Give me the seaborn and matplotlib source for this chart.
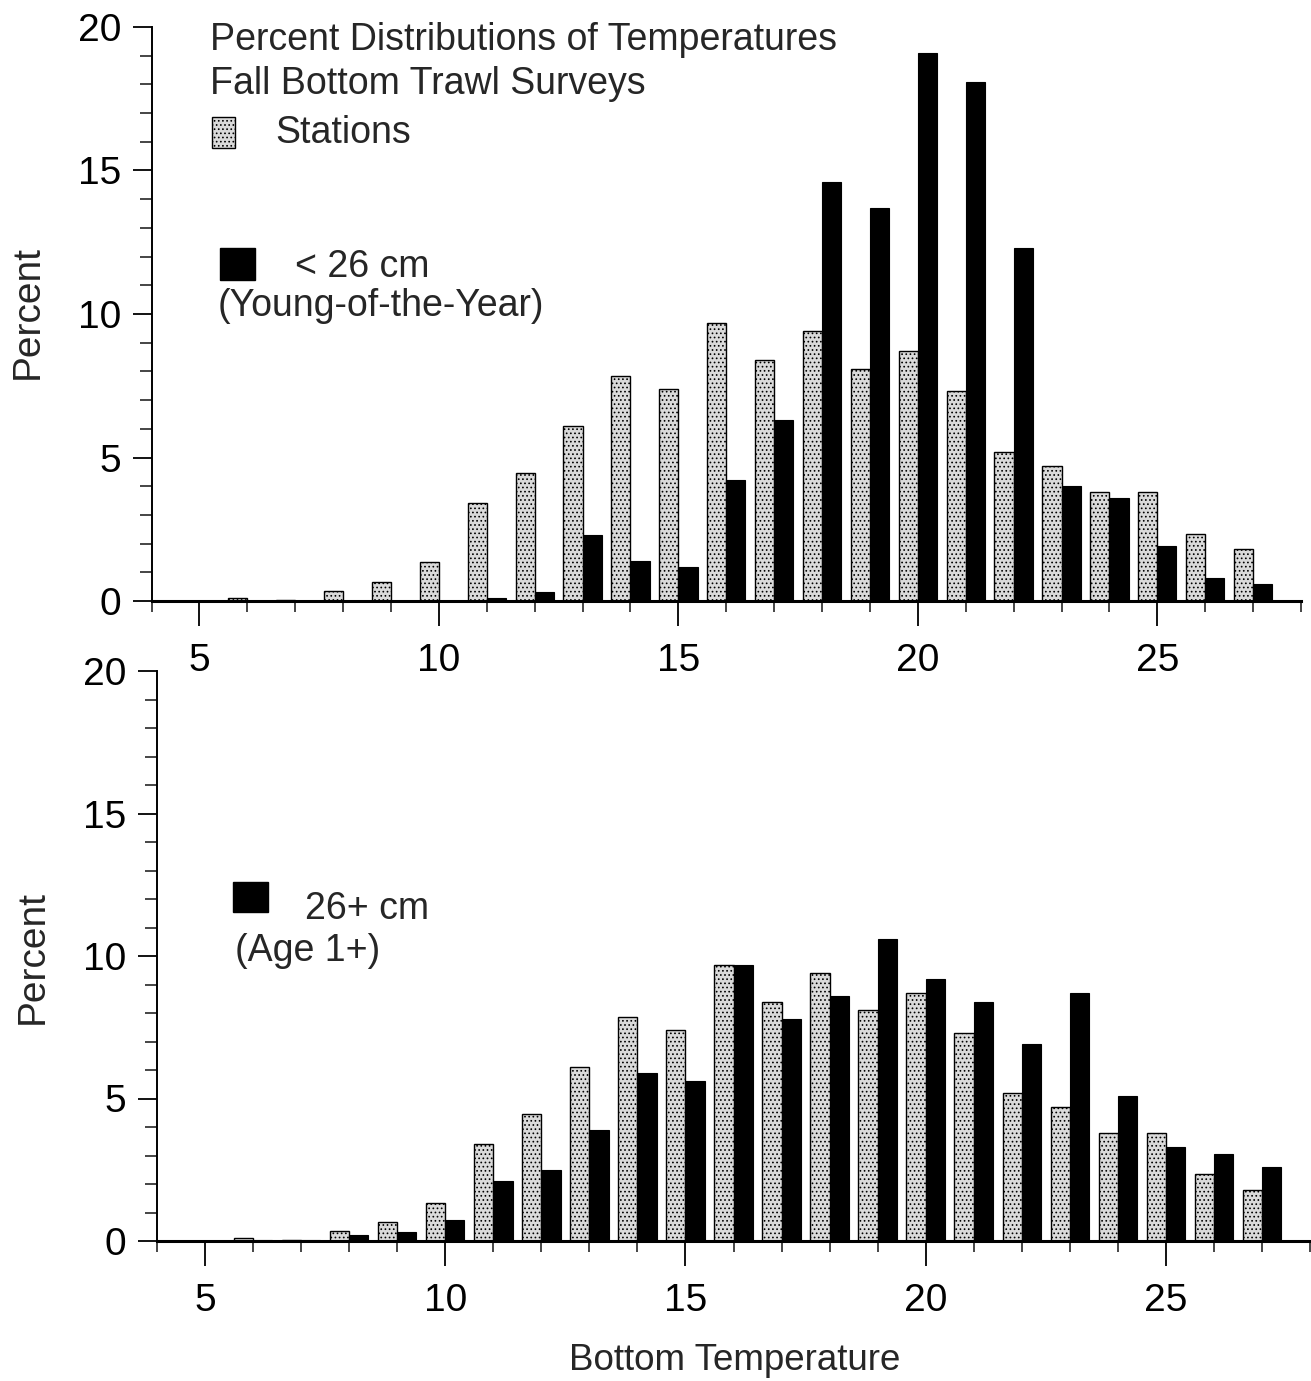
import numpy as np
import pandas as pd
import matplotlib
matplotlib.use("Agg")
import matplotlib.pyplot as plt
from matplotlib.patches import Rectangle
from matplotlib.ticker import MultipleLocator, FixedLocator
import seaborn as sns

# ---------------- data ----------------
temps = list(range(6, 28))
stations = [0.1, 0.05, 0.35, 0.65, 1.35, 3.4, 4.45, 6.1, 7.85, 7.4,
            9.7, 8.4, 9.4, 8.1, 8.7, 7.3, 5.2, 4.7, 3.8, 3.8, 2.35, 1.8]
young = [0.0, 0.0, 0.0, 0.0, 0.0, 0.12, 0.3, 2.3, 1.4, 1.2,
         4.2, 6.3, 14.6, 13.7, 19.1, 18.1, 12.3, 4.0, 3.6, 1.9, 0.8, 0.6]
age1 = [0.03, 0.03, 0.2, 0.3, 0.75, 2.1, 2.5, 3.9, 5.9, 5.6,
        9.7, 7.8, 8.6, 10.6, 9.2, 8.4, 6.9, 8.7, 5.1, 3.3, 3.05, 2.6]
x_major = [5, 10, 15, 20, 25]
y_major = [0, 5, 10, 15, 20]

sns.set_style("ticks")
plt.rcParams['font.family'] = ['Liberation Sans', 'DejaVu Sans']
plt.rcParams['hatch.linewidth'] = 0.7

W, H = 1311, 1381
fig = plt.figure(figsize=(W / 100, H / 100), dpi=100)

def fx(px):
    return px / W

def fy(py):
    return 1 - py / H

ax1 = fig.add_axes([fx(151.5), fy(601), fx(1301 - 151.5), (601 - 27) / H])
ax2 = fig.add_axes([fx(157), fy(1241), fx(1310 - 157), (1241 - 671) / H])

STATION_FACE = "#dadada"


def panel(ax, fish, label):
    n = len(temps)
    df = pd.DataFrame({
        "Temperature": temps * 2,
        "Percent": stations + fish,
        "Series": ["Stations"] * n + [label] * n,
    })
    sns.barplot(data=df, x="Temperature", y="Percent", hue="Series",
                native_scale=True, palette={"Stations": STATION_FACE, label: "#000000"},
                saturation=1, legend=False, errorbar=None, ax=ax)
    for bar in ax.containers[0]:
        bar.set_hatch("....")
        bar.set_edgecolor("black")
        bar.set_linewidth(1.0)
    for bar in ax.containers[1]:
        bar.set_edgecolor("black")
        bar.set_linewidth(0.8)
    ax.set_xlim(4, 28)
    ax.set_ylim(0, 20)
    ax.xaxis.set_major_locator(FixedLocator(x_major))
    ax.xaxis.set_minor_locator(MultipleLocator(1))
    ax.yaxis.set_major_locator(FixedLocator(y_major))
    ax.yaxis.set_minor_locator(MultipleLocator(1))
    ax.set_xticklabels([str(v) for v in x_major])
    ax.set_yticklabels([str(v) for v in y_major])
    ax.tick_params(axis="x", which="major", direction="out", length=18, width=1.3,
                   labelsize=28, pad=12, colors="black")
    ax.tick_params(axis="x", which="minor", direction="out", length=8, width=1.2)
    ax.tick_params(axis="y", which="major", direction="out", length=14, width=1.3,
                   labelsize=28, pad=8, colors="black")
    ax.tick_params(axis="y", which="minor", direction="out", length=9, width=1.2)
    ax.set_xlabel("")
    ax.set_ylabel("")
    sns.despine(ax=ax)
    ax.spines["left"].set_linewidth(1.4)
    ax.spines["bottom"].set_linewidth(2.2)
    ax.spines["left"].set_color("black")
    ax.spines["bottom"].set_color("black")
    ax.set_facecolor("white")


panel(ax1, young, "< 26 cm")
panel(ax2, age1, "26+ cm")

fs = 27
# header and legend (top panel)
fig.text(fx(210), fy(50), "Percent Distributions of Temperatures", fontsize=fs,
         ha="left", va="baseline")
fig.text(fx(210), fy(94), "Fall Bottom Trawl Surveys", fontsize=fs,
         ha="left", va="baseline")
fig.patches.append(Rectangle((fx(212), fy(148)), fx(235 - 212), (148 - 117) / H,
                             transform=fig.transFigure, facecolor=STATION_FACE,
                             edgecolor="black", hatch="....", linewidth=1.0))
fig.text(fx(275), fy(143), "Stations", fontsize=fs, ha="left", va="baseline")

fig.patches.append(Rectangle((fx(220), fy(280)), fx(255 - 220), (280 - 248) / H,
                             transform=fig.transFigure, facecolor="black",
                             edgecolor="black"))
fig.text(fx(295), fy(277), "< 26 cm", fontsize=fs, ha="left", va="baseline")
fig.text(fx(218), fy(316), "(Young-of-the-Year)", fontsize=fs, ha="left", va="baseline")

# legend (bottom panel)
fig.patches.append(Rectangle((fx(233), fy(912)), fx(268 - 233), (912 - 882) / H,
                             transform=fig.transFigure, facecolor="black",
                             edgecolor="black"))
fig.text(fx(305), fy(919), "26+ cm", fontsize=fs, ha="left", va="baseline")
fig.text(fx(235), fy(961), "(Age 1+)", fontsize=fs, ha="left", va="baseline")

# axis labels
fig.text(fx(28), fy(312), "Percent", fontsize=28, rotation=90, ha="center", va="center")
fig.text(fx(33), fy(957), "Percent", fontsize=28, rotation=90, ha="center", va="center")
fig.text(fx(735), fy(1360), "Bottom Temperature", fontsize=26.5, ha="center", va="center")

fig.savefig("out.png", dpi=100, facecolor="white")
